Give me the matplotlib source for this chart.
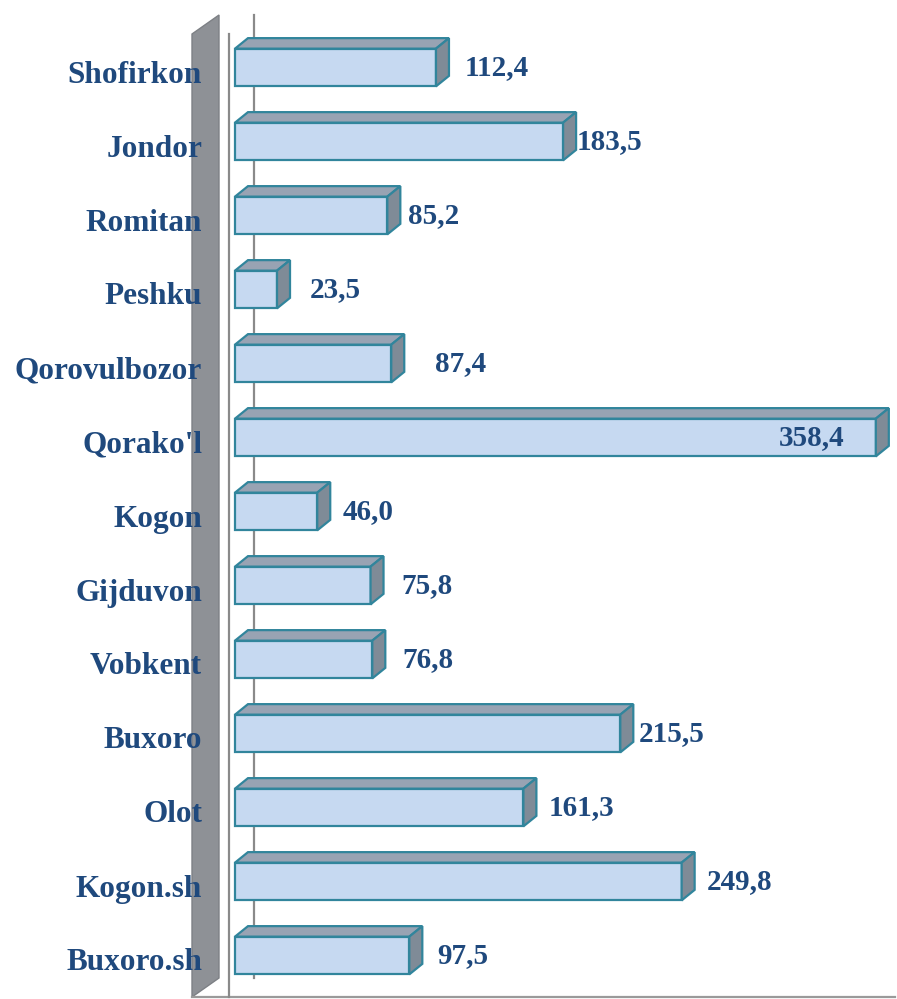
import matplotlib
matplotlib.use("Agg")
import matplotlib.pyplot as plt
from matplotlib.patches import Polygon
from matplotlib.transforms import ScaledTranslation

# data (top to bottom)
districts = ["Shofirkon", "Jondor", "Romitan", "Peshku", "Qorovulbozor", "Qorako'l",
             "Kogon", "Gijduvon", "Vobkent", "Buxoro", "Olot", "Kogon.sh", "Buxoro.sh"]
values = [112.4, 183.5, 85.2, 23.5, 87.4, 358.4, 46.0, 75.8, 76.8, 215.5, 161.3, 249.8, 97.5]
value_text = ["112,4", "183,5", "85,2", "23,5", "87,4", "358,4", "46,0",
              "75,8", "76,8", "215,5", "161,3", "249,8", "97,5"]
# label shift from bar end, in pixels (negative = inside the bar)
label_shift = [29, 14, 21, 33, 44, -31, 25, 31, 30, 18, 25, 25, 28]

W, H = 897, 999
fig = plt.figure(figsize=(W / 100, H / 100), dpi=100)

# background "box" of the 3D chart, drawn in pixel coords
bg = fig.add_axes([0, 0, 1, 1], zorder=0)
bg.set_xlim(0, W)
bg.set_ylim(H, 0)
bg.axis("off")
bg.add_patch(Polygon([(192, 34), (219, 15), (219, 978), (192, 997)],
                     closed=True, facecolor="#8e9196", edgecolor="#7d8085", lw=1))
bg.plot([254, 254], [15, 978], color="#8a8a8a", lw=1.6)
bg.plot([192, 895], [997, 997], color="#9a9a9a", lw=1.6)

# main axes: x=0 at pixel 235, 1.788 px per unit; rows 74 px apart
ax = fig.add_axes([229 / W, 2 / H, 668 / W, 963 / H], zorder=1)
ax.patch.set_visible(False)
ax.set_xlim(-6 / 1.788, 662 / 1.788)
ax.set_ylim((997 - 67.5) / 74, (34 - 67.5) / 74)

idx = list(range(len(values)))
bh = 0.51
ddx, ddy = 13 / 1.788, 10.5 / 74

ax.barh(idx, values, height=bh, color="#c6d9f1", edgecolor="#31859c", lw=1.6, zorder=3)
for i, v in zip(idx, values):
    top = [(0, i - bh / 2), (v, i - bh / 2), (v + ddx, i - bh / 2 - ddy), (ddx, i - bh / 2 - ddy)]
    side = [(v, i - bh / 2), (v + ddx, i - bh / 2 - ddy), (v + ddx, i + bh / 2 - ddy), (v, i + bh / 2)]
    ax.add_patch(Polygon(top, closed=True, facecolor="#98a3b3", edgecolor="#31859c",
                         lw=1.6, zorder=3, clip_on=False))
    ax.add_patch(Polygon(side, closed=True, facecolor="#7f8b97", edgecolor="#31859c",
                         lw=1.6, zorder=3, clip_on=False))

for i, v, t, s in zip(idx, values, value_text, label_shift):
    ax.annotate(t, xy=(v, i), xytext=(s * 0.72, 0), textcoords="offset points",
                ha="left" if s > 0 else "right", va="center",
                fontsize=21, fontweight="bold", family="Liberation Serif",
                color="#1f497d", zorder=5)

ax.set_yticks(idx)
ax.set_yticklabels(districts, fontsize=22.5, fontweight="bold",
                   family="Liberation Serif", color="#1f497d")
ax.tick_params(axis="y", length=0, pad=19.4)
ax.set_xticks([])
shift = ScaledTranslation(0, -4 / 100, fig.dpi_scale_trans)
for lab in ax.get_yticklabels():
    lab.set_transform(lab.get_transform() + shift)

for sp in ["top", "right", "bottom"]:
    ax.spines[sp].set_visible(False)
ax.spines["left"].set_color("#8a8a8a")
ax.spines["left"].set_linewidth(1.6)

fig.savefig("out.png", dpi=100)
